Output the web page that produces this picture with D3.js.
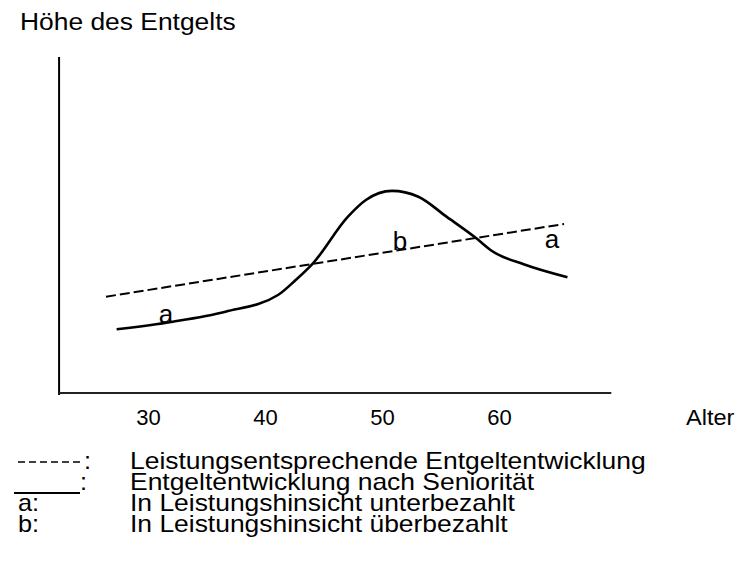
<!DOCTYPE html>
<html>
<head>
<meta charset="utf-8">
<script src="https://cdn.jsdelivr.net/npm/d3@7"></script>
<style>
body { margin: 0; background: #fff; }
svg text { font-family: "Liberation Sans", Arial, sans-serif; fill: #000; }
</style>
</head>
<body>
<svg id="chart" width="735" height="587"></svg>
<script>
// x axis
var tickAges = [30, 40, 50, 60];
var axisAges = [22.4, 69.6];
var xTitle = "Alter";
var yTitle = "Höhe des Entgelts";

// Entgeltentwicklung nach Seniorität (solid)
var seniorityAges = [27.32, 32.12, 36.62, 41.11, 42.62, 44.10, 47.09, 48.62, 50.85, 53.11, 55.51, 58.06, 59.40, 62.11, 65.85];
var seniorityPay  = [18.96, 21.22, 24.19, 29.17, 33.63, 38.60, 52.48, 57.44, 60.15, 58.42, 52.48, 46.04, 42.26, 38.30, 34.44];

// Leistungsentsprechende Entgeltentwicklung (dashed)
var performanceAges = [26.41, 65.56];
var performancePay  = [28.66, 50.30];

// a / b annotations
var regionLabels = ["a", "b", "a"];
var regionAges   = [31.54, 51.54, 64.53];
var regionPay    = [20.8, 42.6, 43.1];

// legend
var legendKeys  = ["dashed", "solid", "a:", "b:"];
var legendTexts = [
    "Leistungsentsprechende Entgeltentwicklung",
    "Entgeltentwicklung nach Seniorität",
    "In Leistungshinsicht unterbezahlt",
    "In Leistungshinsicht überbezahlt"
];

var svg = d3.select("#chart");

var x = d3.scaleLinear().domain([30, 60]).range([148, 499]);
var y = d3.scaleLinear().domain([0, 100]).range([393, 57]);

// text is a bit wider than plain Arial in the original
function wideText(px, py, size, sx, t) {
    return svg.append("text")
        .attr("transform", "translate(" + px + "," + py + ") scale(" + sx + ",1)")
        .style("font-size", size + "px")
        .text(t);
}

// y title
wideText(20, 30, 24, 1.1, yTitle);

// y axis line
svg.append("line")
    .attr("x1", x(axisAges[0])).attr("x2", x(axisAges[0]))
    .attr("y1", y(100)).attr("y2", y(0) + 2)
    .attr("stroke", "#000")
    .attr("stroke-width", 2);

// x axis line
svg.append("line")
    .attr("x1", x(axisAges[0])).attr("x2", x(axisAges[1]))
    .attr("y1", y(0)).attr("y2", y(0))
    .attr("stroke", "#222")
    .attr("stroke-width", 2);

var xAxis = svg.append("g")
    .attr("transform", "translate(0," + y(0) + ")")
    .call(d3.axisBottom(x).tickValues(tickAges).tickSize(0).tickPadding(16));
xAxis.select(".domain").remove();
xAxis.selectAll("text")
    .style("font-size", "22px")
    .style("font-family", "'Liberation Sans', Arial, sans-serif")
    .attr("fill", "#000");

wideText(686, 425, 22, 1.07, xTitle);

// dashed line
var perfData = performanceAges.map(function (a, i) { return [a, performancePay[i]]; });
svg.append("path")
    .attr("fill", "none")
    .attr("stroke", "#000")
    .attr("stroke-width", 2)
    .attr("stroke-dasharray", "10,4")
    .attr("d", d3.line().x(function (d) { return x(d[0]); }).y(function (d) { return y(d[1]); })(perfData));

// solid curve
var senData = seniorityAges.map(function (a, i) { return [a, seniorityPay[i]]; });
svg.append("path")
    .attr("fill", "none")
    .attr("stroke", "#000")
    .attr("stroke-width", 2.6)
    .attr("d", d3.line()
        .curve(d3.curveMonotoneX)
        .x(function (d) { return x(d[0]); })
        .y(function (d) { return y(d[1]); })(senData));

// a / b labels
regionLabels.forEach(function (t, i) {
    svg.append("text")
        .attr("x", x(regionAges[i]))
        .attr("y", y(regionPay[i]))
        .attr("text-anchor", "middle")
        .style("font-size", "26px")
        .text(t);
});

// legend
var legendY = [469, 490, 511, 532];
legendKeys.forEach(function (k, i) {
    var ly = legendY[i];
    if (k === "dashed") {
        svg.append("line")
            .attr("x1", 18).attr("x2", 82)
            .attr("y1", ly - 7).attr("y2", ly - 7)
            .attr("stroke", "#000")
            .attr("stroke-width", 1.5)
            .attr("stroke-dasharray", "7,4");
        wideText(84, ly, 23, 1.1, ":");
    } else if (k === "solid") {
        svg.append("line")
            .attr("x1", 14).attr("x2", 80)
            .attr("y1", ly + 3).attr("y2", ly + 3)
            .attr("stroke", "#000")
            .attr("stroke-width", 2);
        wideText(80, ly, 23, 1.1, ":");
    } else {
        wideText(18, ly, 23, 1.1, k);
    }
    wideText(130, ly, 23, 1.15, legendTexts[i]);
});
</script>
</body>
</html>
